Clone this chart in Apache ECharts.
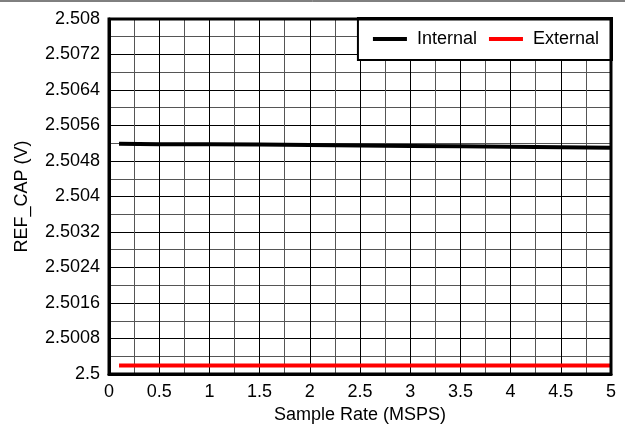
<!DOCTYPE html>
<html><head><meta charset="utf-8">
<script src="https://cdn.jsdelivr.net/npm/echarts@6/dist/echarts.min.js"></script>
<style>html,body{margin:0;padding:0;background:#fff}#c{width:625px;height:426px}</style>
</head><body><div id="c"></div>
<script>
const sampleRate = [0.1, 0.5, 1, 1.5, 2, 2.5, 3, 3.5, 4, 4.5, 5];
const internal = [2.50519, 2.50518, 2.50518, 2.50517, 2.50516, 2.50515, 2.50514, 2.50513, 2.50512, 2.50511, 2.50510];
const external = [2.50019, 2.50019, 2.50019, 2.50019, 2.50019, 2.50019, 2.50019, 2.50019, 2.50019, 2.50019, 2.50019];
const seriesNames = ['Internal', 'External'];
const colors = ['#000000', '#ff0000'];

const chart = echarts.init(document.getElementById('c'), null, {renderer: 'canvas'});
const font = 'Liberation Sans, Arial, sans-serif';
function zip(xs, ys){ return xs.map((x,i)=>[x, ys[i]]); }
chart.setOption({
  animation: false,
  backgroundColor: '#fff',
  textStyle: {fontFamily: font},
  grid: {left: 109, right: 14, top: 19, bottom: 52, show: false, containLabel: false, outerBoundsMode: 'none'},
  legend: {
    right: 13, top: 18, orient: 'horizontal',
    backgroundColor: '#fff', borderColor: '#000', borderWidth: 2,
    padding: [12, 13, 12, 15], itemGap: 12, itemWidth: 34, itemHeight: 4,
    textStyle: {fontFamily: font, fontSize: 18, color: '#000', padding: [0, 0, 0, 5]},
    data: seriesNames.map((n,i)=>({name:n, icon:'rect', itemStyle:{color:colors[i]}}))
  },
  xAxis: {
    type: 'value', min: 0, max: 5, interval: 0.5,
    name: 'Sample Rate (MSPS)', nameLocation: 'middle', nameGap: 30,
    nameTextStyle: {fontFamily: font, fontSize: 18, color: '#000'},
    axisLine: {show: true, onZero: false, lineStyle: {color: '#000', width: 3}},
    axisTick: {show: false},
    axisLabel: {fontFamily: font, fontSize: 18, color: '#000', margin: 9,
      formatter: v => String(parseFloat(v.toFixed(2)))},
    splitLine: {show: true, lineStyle: {color: '#000', width: 1}},
    minorTick: {show: false, splitNumber: 2},
    minorSplitLine: {show: true, lineStyle: {color: '#555', width: 1}}
  },
  yAxis: {
    type: 'value', min: 2.5, max: 2.508, interval: 0.0008,
    name: 'REF_CAP (V)', nameLocation: 'middle', nameGap: 78,
    nameTextStyle: {fontFamily: font, fontSize: 18, color: '#000'},
    axisLine: {show: true, lineStyle: {color: '#000', width: 3}},
    axisTick: {show: false},
    axisLabel: {fontFamily: font, fontSize: 18, color: '#000', margin: 9,
      formatter: v => String(parseFloat(v.toFixed(4)))},
    splitLine: {show: true, lineStyle: {color: '#000', width: 1}},
    minorTick: {show: false, splitNumber: 2},
    minorSplitLine: {show: true, lineStyle: {color: '#555', width: 1}}
  },
  graphic: [
    {type:'line', shape:{x1:0,y1:1,x2:625,y2:1}, style:{stroke:'#000', lineWidth:1}},
    {type:'rect', shape:{x:109, y:19, width:502, height:355}, style:{fill:'none', stroke:'#000', lineWidth:3}, z: 10, silent: true}
  ],
  series: [
    {name: seriesNames[0], type: 'line', data: zip(sampleRate, internal), showSymbol: false, symbol: 'none',
     lineStyle: {color: colors[0], width: 4}, itemStyle: {color: colors[0]}, z: 3},
    {name: seriesNames[1], type: 'line', data: zip(sampleRate, external), showSymbol: false, symbol: 'none',
     lineStyle: {color: colors[1], width: 4}, itemStyle: {color: colors[1]}, z: 3}
  ]
});
</script></body></html>
